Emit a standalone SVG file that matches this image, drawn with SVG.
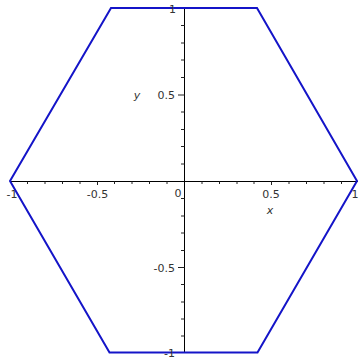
<svg xmlns="http://www.w3.org/2000/svg" width="359" height="363" viewBox="0 0 359 363">
<style>
.ax{stroke:#000;stroke-width:1;fill:none}
.tk{stroke:#222;stroke-width:1}
.lb{font-family:"DejaVu Sans","Liberation Sans",sans-serif;font-size:11px;fill:#333}
.it{font-style:italic}
.hex{fill:none;stroke:#1414c8;stroke-width:2;stroke-linejoin:miter}
</style>
<rect width="359" height="363" fill="#fff"/>
<g id="axes">
<line class="ax" x1="10" y1="181.5" x2="358" y2="181.5"/>
<line class="ax" x1="184.5" y1="8" x2="184.5" y2="353"/>
</g>
<g id="xticks" class="tk">
<line x1="27.5" y1="181.5" x2="27.5" y2="184"/>
<line x1="45" y1="181.5" x2="45" y2="184"/>
<line x1="62.5" y1="181.5" x2="62.5" y2="184"/>
<line x1="80" y1="181.5" x2="80" y2="184"/>
<line x1="97.5" y1="181.5" x2="97.5" y2="185"/>
<line x1="114.5" y1="181.5" x2="114.5" y2="184"/>
<line x1="132" y1="181.5" x2="132" y2="184"/>
<line x1="149.5" y1="181.5" x2="149.5" y2="184"/>
<line x1="167" y1="181.5" x2="167" y2="184"/>
<line x1="202" y1="181.5" x2="202" y2="184"/>
<line x1="219.5" y1="181.5" x2="219.5" y2="184"/>
<line x1="237" y1="181.5" x2="237" y2="184"/>
<line x1="254" y1="181.5" x2="254" y2="184"/>
<line x1="271.5" y1="181.5" x2="271.5" y2="185"/>
<line x1="289" y1="181.5" x2="289" y2="184"/>
<line x1="306.5" y1="181.5" x2="306.5" y2="184"/>
<line x1="324" y1="181.5" x2="324" y2="184"/>
<line x1="341.5" y1="181.5" x2="341.5" y2="184"/>
</g>
<g id="yticks" class="tk">
<line x1="181" y1="25.5" x2="184.5" y2="25.5"/>
<line x1="181" y1="43" x2="184.5" y2="43"/>
<line x1="181" y1="60" x2="184.5" y2="60"/>
<line x1="181" y1="77.5" x2="184.5" y2="77.5"/>
<line x1="178" y1="95" x2="184.5" y2="95"/>
<line x1="181" y1="112" x2="184.5" y2="112"/>
<line x1="181" y1="129.5" x2="184.5" y2="129.5"/>
<line x1="181" y1="146.5" x2="184.5" y2="146.5"/>
<line x1="181" y1="164" x2="184.5" y2="164"/>
<line x1="181" y1="198.5" x2="184.5" y2="198.5"/>
<line x1="181" y1="216" x2="184.5" y2="216"/>
<line x1="181" y1="233" x2="184.5" y2="233"/>
<line x1="181" y1="250.5" x2="184.5" y2="250.5"/>
<line x1="178" y1="267.5" x2="184.5" y2="267.5"/>
<line x1="181" y1="284.5" x2="184.5" y2="284.5"/>
<line x1="181" y1="302" x2="184.5" y2="302"/>
<line x1="181" y1="319" x2="184.5" y2="319"/>
<line x1="181" y1="336" x2="184.5" y2="336"/>
<line x1="178" y1="352.5" x2="184.5" y2="352.5"/>
<line x1="178" y1="8" x2="184.5" y2="8"/>
</g>
<g id="hexagon">
<polygon class="hex" points="10,181 111,8 257,8 357,181 257.5,352.5 109.5,352.5"/>
</g>
<g id="labels" class="lb">
<text x="12" y="198" text-anchor="middle">-1</text>
<text x="97.5" y="198" text-anchor="middle">-0.5</text>
<text x="178" y="197" text-anchor="middle">0</text>
<text x="271" y="198" text-anchor="middle">0.5</text>
<text x="355" y="198" text-anchor="middle">1</text>
<text class="it" x="270" y="214" text-anchor="middle">x</text>
<text x="176" y="13" text-anchor="end">1</text>
<text x="175" y="99" text-anchor="end">0.5</text>
<text class="it" x="137" y="99" text-anchor="middle">y</text>
<text x="175" y="272" text-anchor="end">-0.5</text>
<text x="175" y="357" text-anchor="end">-1</text>
</g>
</svg>
